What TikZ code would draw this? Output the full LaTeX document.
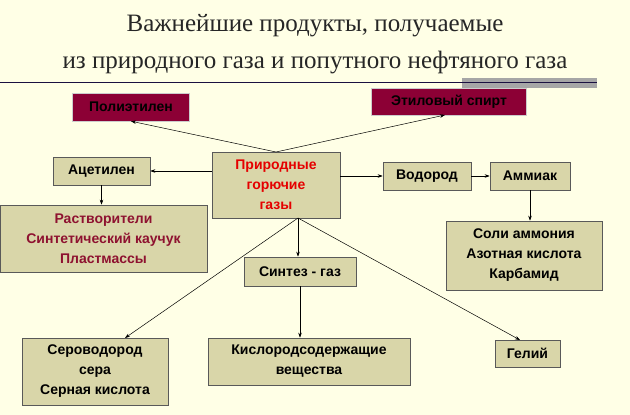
\documentclass[tikz,border=0pt]{standalone}
\usepackage{fontspec}
\setmainfont{Liberation Serif}
\newfontfamily\boxfont{Liberation Sans}
\usetikzlibrary{arrows.meta}
\definecolor{bg}{HTML}{FFFFE6}
\definecolor{khaki}{HTML}{D9D6A9}
\definecolor{wine}{HTML}{8C0035}
\definecolor{darkred}{HTML}{8E1230}
\definecolor{navy}{HTML}{1A1040}
\begin{document}
\begin{tikzpicture}[x=1pt,y=-1pt,
  kbox/.style={draw=gray!70!black,fill=khaki,line width=0.6pt,font=\boxfont\bfseries\fontsize{14}{20}\selectfont,align=center,inner sep=0pt},
  wbox/.style={draw=gray!40,fill=wine,font=\boxfont\bfseries\fontsize{14}{17}\selectfont,inner sep=0pt},
  arr/.style={-{Stealth[length=5pt,width=3.5pt]},line width=0.5pt}]
\fill[bg] (0,0) rectangle (630,415);
\useasboundingbox (0,0) rectangle (630,415);
\node[font=\fontsize{25}{37}\selectfont,align=center,text=black!85] (title) at (315,44) {Важнейшие продукты, получаемые\\из природного газа и попутного нефтяного газа};
\fill[gray!70] (462,78) rectangle (597,88);
\draw[navy,line width=1pt] (0,82.5) -- (597,82.5);
\node[wbox,minimum width=117,minimum height=28] (pe) at (131,107) {Полиэтилен};
\node[wbox,minimum width=155,minimum height=27] (es) at (449,101.5) {Этиловый спирт};
\node[kbox,minimum width=97,minimum height=28] (ac) at (101.5,171) {Ацетилен};
\node[kbox,minimum width=128,minimum height=66,text=red!90!black] (pg) at (276,185) {Природные\\горючие\\газы};
\node[kbox,minimum width=88,minimum height=28] (h) at (427,176) {Водород};
\node[kbox,minimum width=80,minimum height=28] (am) at (530,176) {Аммиак};
\node[kbox,minimum width=207,minimum height=67,text=darkred] (rs) at (103.5,238.5) {Растворители\\Синтетический каучук\\Пластмассы};
\node[kbox,minimum width=156,minimum height=69] (sa) at (524,255.5) {Соли аммония\\Азотная кислота\\Карбамид};
\node[kbox,minimum width=112,minimum height=29] (sg) at (300,271.5) {Синтез - газ};
\node[kbox,minimum width=146,minimum height=67] (sv) at (95,371.5) {Сероводород\\сера\\Серная кислота};
\node[kbox,minimum width=202,minimum height=47] (ks) at (309,361.5) {Кислородсодержащие\\вещества};
\node[kbox,minimum width=65,minimum height=27] (he) at (527.5,353.5) {Гелий};
\coordinate (pgt) at (276,152);
\coordinate (pgb) at (298,218);
\draw[arr] (pgt) -- (pe.south);
\draw[arr] (pgt) -- (445,115);
\draw[arr] (pg.west|-ac) -- (ac.east);
\draw[arr] (pg.east|-h) -- (h.west);
\draw[arr] (h) -- (am);
\draw[arr] (am.south) -- (sa.north-|am.south);
\draw[arr] (ac.south) -- (rs.north-|ac.south);
\draw[arr] (pgb) -- (sg.north-|pgb);
\draw[arr] (pgb) -- (125,338);
\draw[arr] (pgb) -- (520,340);
\draw[arr] (sg.south) -- (ks.north-|sg.south);
\end{tikzpicture}
\end{document}
